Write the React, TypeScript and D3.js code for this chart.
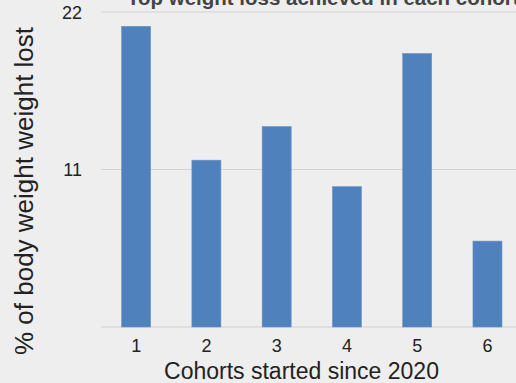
import React from "react";
import * as d3 from "d3";

const categories = ["1", "2", "3", "4", "5", "6"];
const values = [21.0, 11.65, 14.0, 9.8, 19.1, 6.0];
const yTicks = [11, 22];
const title = "Top weight loss achieved in each cohort";
const xTitle = "Cohorts started since 2020";
const yTitle = "% of body weight weight lost";

export default function App() {
  const W = 516, H = 383;
  const left = 101, right = 522.6, top = 12, bottom = 327;
  const x = d3.scaleBand<string>().domain(categories).range([left, right]).paddingInner(0.587).paddingOuter(0.2935);
  const y = d3.scaleLinear().domain([0, 22]).range([bottom, top]);
  const font = "Liberation Sans, Arial, sans-serif";
  return (
    <svg width={W} height={H} style={{ position: "absolute", left: 0, top: 0, background: "#eeeeee" }} fontFamily={font}>
      <rect x={0} y={0} width={W} height={H} fill="#eeeeee" />
      <text x={127} y={4.5} fontSize={20.5} fontWeight="bold" fill="#444">{title}</text>
      {yTicks.map(t => (
        <g key={t}>
          <line x1={left} x2={W} y1={y(t)} y2={y(t)} stroke="#d2d2d2" strokeWidth={1.2} />
          <text x={82} y={y(t) + 6.5} fontSize={18} textAnchor="end" fill="#222">{t}</text>
        </g>
      ))}
      <line x1={left} x2={W} y1={y(0)} y2={y(0)} stroke="#cfcfcf" strokeWidth={1.2} />
      {categories.map((c, i) => (
        <rect key={c} x={x(c)} y={y(values[i])} width={x.bandwidth()} height={y(0) - y(values[i])}
          fill="#4f81bd" stroke="#6b93c4" strokeWidth={0.6} />
      ))}
      {categories.map(c => (
        <text key={c} x={(x(c) as number) + x.bandwidth() / 2} y={352} fontSize={18} textAnchor="middle" fill="#222">{c}</text>
      ))}
      <text x={301.5} y={379} fontSize={23} textAnchor="middle" fill="#222">{xTitle}</text>
      <text transform={`translate(33,191) rotate(-90)`} fontSize={26} textAnchor="middle" fill="#222">{yTitle}</text>
    </svg>
  );
}
